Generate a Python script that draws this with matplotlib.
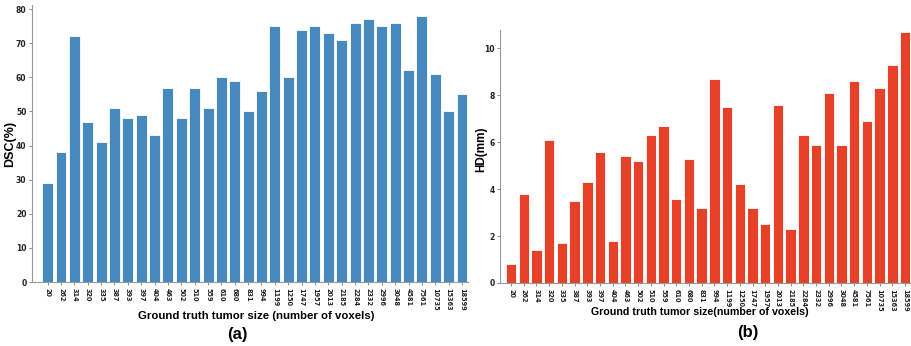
import matplotlib
matplotlib.use("Agg")
import matplotlib.pyplot as plt

sizes = ["20", "262", "314", "320", "335", "387", "393", "397", "404", "463",
         "502", "510", "559", "610", "680", "831", "994", "1199", "1250", "1747",
         "1957", "2013", "2185", "2284", "2332", "2996", "3048", "4581", "7561",
         "10735", "15363", "18599"]
dsc = [29, 38, 72, 47, 41, 51, 48, 49, 43, 57, 48, 57, 51, 60, 59, 50, 56,
       75, 60, 74, 75, 73, 71, 76, 77, 75, 76, 62, 78, 61, 50, 55]
hd = [0.8, 3.8, 1.4, 6.1, 1.7, 3.5, 4.3, 5.6, 1.8, 5.4, 5.2, 6.3, 6.7, 3.6,
      5.3, 3.2, 8.7, 7.5, 4.2, 3.2, 2.5, 7.6, 2.3, 6.3, 5.9, 8.1, 5.9, 8.6,
      6.9, 8.3, 9.3, 10.7]

W, H = 912, 346
fig = plt.figure(figsize=(W / 100, H / 100), dpi=100)

def px_axes(x0, y0, x1, y1):
    # pixel box (top-left origin) -> figure fraction
    return fig.add_axes([x0 / W, 1 - y1 / H, (x1 - x0) / W, (y1 - y0) / H])

label_font = dict(family="Liberation Sans", fontweight="bold")

def style(ax):
    for s in ("top", "right"):
        ax.spines[s].set_visible(False)
    for s in ("left", "bottom"):
        ax.spines[s].set_color("#999999")
        ax.spines[s].set_linewidth(0.8)
    ax.tick_params(axis="both", length=2.5, width=0.6, color="#777777", pad=1.5)
    ax.tick_params(axis="x", labelsize=4.7)
    ax.tick_params(axis="y", labelsize=5.5)
    for t in ax.get_xticklabels() + ax.get_yticklabels():
        t.set_fontweight("bold")
        t.set_color("#222222")

x = list(range(len(sizes)))

# (a) DSC
ax1 = px_axes(32, 5, 468, 282)
ax1.bar(x, dsc, width=0.82, color="#4589be", edgecolor="white", linewidth=0.6)
ax1.set_xlim(-1.17, 31.45)
ax1.set_ylim(0, 81.2)
ax1.set_yticks(range(0, 81, 10))
ax1.set_xticks(x)
ax1.set_xticklabels(sizes, rotation=-90)
ax1.set_ylabel("DSC(%)", fontsize=9, va="center", **label_font)
ax1.yaxis.set_label_coords(-0.05, 0.5)
ax1.set_xlabel("Ground truth tumor size (number of voxels)", fontsize=8.2,
               va="center", **label_font)
ax1.xaxis.set_label_coords(0.515, -0.123)
style(ax1)
fig.text(237 / W, 1 - 335 / H, "(a)", ha="center", va="center",
         fontsize=12, **label_font)

# (b) HD
ax2 = px_axes(500, 30, 912, 283)
ax2.bar(x, hd, width=0.82, color="#e64029", edgecolor="white", linewidth=0.6)
ax2.set_xlim(-0.87, 31.55)
ax2.set_ylim(0, 10.78)
ax2.set_yticks(range(0, 11, 2))
ax2.set_xticks(x)
ax2.set_xticklabels(sizes, rotation=-90)
ax2.set_ylabel("HD(mm)", fontsize=8.5, va="center", **label_font)
ax2.yaxis.set_label_coords(-0.046, 0.53)
ax2.set_xlabel("Ground truth tumor size(number of voxels)", fontsize=7.7,
               va="center", **label_font)
ax2.xaxis.set_label_coords(0.485, -0.115)
style(ax2)
fig.text(748 / W, 1 - 333 / H, "(b)", ha="center", va="center",
         fontsize=12, **label_font)

fig.savefig("out.png", dpi=100)
